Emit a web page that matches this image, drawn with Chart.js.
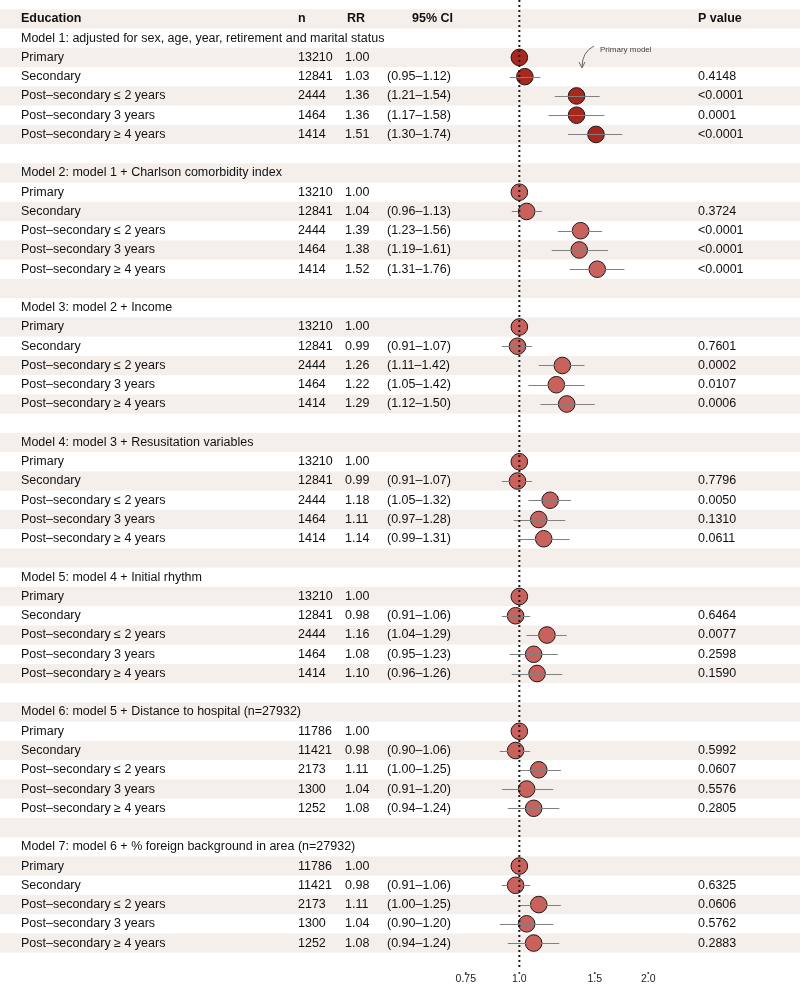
<!DOCTYPE html>
<html>
<head>
<meta charset="utf-8">
<script src="https://cdn.jsdelivr.net/npm/chart.js@4.4.1/dist/chart.umd.min.js"></script>
<style>
  html, body { margin: 0; padding: 0; background: #ffffff; }
  canvas { display: block; }
</style>
</head>
<body>
<canvas id="forest" width="800" height="984"></canvas>
<script>
// Datos del forest plot
var modelTitles = [
    'Model 1: adjusted for sex, age, year, retirement and marital status',
    'Model 2: model 1 + Charlson comorbidity index',
    'Model 3: model 2 + Income',
    'Model 4: model 3 + Resusitation variables',
    'Model 5: model 4 + Initial rhythm',
    'Model 6: model 5 + Distance to hospital (n=27932)',
    'Model 7: model 6 + % foreign background in area (n=27932)'
];
var categories = ['Primary', 'Secondary', 'Post\u2013secondary \u2264 2 years', 'Post\u2013secondary 3 years', 'Post\u2013secondary \u2265 4 years'];

var nValues = [
    [13210, 12841, 2444, 1464, 1414],
    [13210, 12841, 2444, 1464, 1414],
    [13210, 12841, 2444, 1464, 1414],
    [13210, 12841, 2444, 1464, 1414],
    [13210, 12841, 2444, 1464, 1414],
    [11786, 11421, 2173, 1300, 1252],
    [11786, 11421, 2173, 1300, 1252]
];
var rrValues = [
    [1.00, 1.03, 1.36, 1.36, 1.51],
    [1.00, 1.04, 1.39, 1.38, 1.52],
    [1.00, 0.99, 1.26, 1.22, 1.29],
    [1.00, 0.99, 1.18, 1.11, 1.14],
    [1.00, 0.98, 1.16, 1.08, 1.10],
    [1.00, 0.98, 1.11, 1.04, 1.08],
    [1.00, 0.98, 1.11, 1.04, 1.08]
];
var ciLow = [
    [null, 0.95, 1.21, 1.17, 1.30],
    [null, 0.96, 1.23, 1.19, 1.31],
    [null, 0.91, 1.11, 1.05, 1.12],
    [null, 0.91, 1.05, 0.97, 0.99],
    [null, 0.91, 1.04, 0.95, 0.96],
    [null, 0.90, 1.00, 0.91, 0.94],
    [null, 0.91, 1.00, 0.90, 0.94]
];
var ciHigh = [
    [null, 1.12, 1.54, 1.58, 1.74],
    [null, 1.13, 1.56, 1.61, 1.76],
    [null, 1.07, 1.42, 1.42, 1.50],
    [null, 1.07, 1.32, 1.28, 1.31],
    [null, 1.06, 1.29, 1.23, 1.26],
    [null, 1.06, 1.25, 1.20, 1.24],
    [null, 1.06, 1.25, 1.20, 1.24]
];
var pValues = [
    ['', '0.4148', '<0.0001', '0.0001', '<0.0001'],
    ['', '0.3724', '<0.0001', '<0.0001', '<0.0001'],
    ['', '0.7601', '0.0002', '0.0107', '0.0006'],
    ['', '0.7796', '0.0050', '0.1310', '0.0611'],
    ['', '0.6464', '0.0077', '0.2598', '0.1590'],
    ['', '0.5992', '0.0607', '0.5576', '0.2805'],
    ['', '0.6325', '0.0606', '0.5762', '0.2883']
];
var xTicks = [0.75, 1.0, 1.5, 2.0];
var xTickLabels = ['0.75', '1.0', '1.5', '2.0'];

// Estilos
var FONT = '"Liberation Sans", Arial, Helvetica, sans-serif';
var stripeColor = '#f5efec';
var primaryFill = '#a8271f';
var otherFill = '#c9625d';

// Fila de cada modelo: cabecera = 0, titulo = 1 + 7m, categorias = 2 + 7m + k
function rowOf(m, k) { return 2 + 7 * m + k; }
var totalRows = 49;

var points = [];
var pointColors = [];
modelTitles.forEach(function (t, m) {
    rrValues[m].forEach(function (rr, k) {
        points.push({ x: rr, y: rowOf(m, k), lo: ciLow[m][k], hi: ciHigh[m][k] });
        pointColors.push(m === 0 ? primaryFill : otherFill);
    });
});

function fmtCI(lo, hi) {
    if (lo === null) return '';
    return '(' + lo.toFixed(2) + '\u2013' + hi.toFixed(2) + ')';
}

// Plugin: franjas de fondo
var stripes = {
    id: 'stripes',
    beforeDraw: function (chart) {
        var ctx = chart.ctx, y = chart.scales.y;
        ctx.save();
        ctx.fillStyle = stripeColor;
        for (var r = 0; r < totalRows; r += 2) {
            var top = y.getPixelForValue(r - 0.5);
            var bot = y.getPixelForValue(r + 0.5);
            ctx.fillRect(0, top, chart.width, bot - top);
        }
        ctx.restore();
    }
};

// Plugin: IC, linea de referencia y textos de la tabla
var table = {
    id: 'table',
    afterDatasetsDraw: function (chart) {
        var ctx = chart.ctx, x = chart.scales.x, y = chart.scales.y;
        ctx.save();

        // intervalos de confianza
        ctx.strokeStyle = '#808080';
        ctx.lineWidth = 1;
        points.forEach(function (p) {
            if (p.lo === null) return;
            var py = Math.round(y.getPixelForValue(p.y)) + 0.5;
            ctx.beginPath();
            ctx.moveTo(x.getPixelForValue(p.lo), py);
            ctx.lineTo(x.getPixelForValue(p.hi), py);
            ctx.stroke();
        });

        // linea punteada en RR = 1
        var x1 = x.getPixelForValue(1);
        ctx.strokeStyle = '#1a1a1a';
        ctx.lineWidth = 2;
        ctx.setLineDash([2, 3]);
        ctx.beginPath();
        ctx.moveTo(x1, 0);
        ctx.lineTo(x1, 968);
        ctx.stroke();
        ctx.setLineDash([]);

        // marcas de los ticks
        ctx.fillStyle = '#333';
        xTicks.forEach(function (v) {
            ctx.beginPath();
            ctx.arc(x.getPixelForValue(v), 973, 1, 0, Math.PI * 2);
            ctx.fill();
        });

        // textos
        ctx.fillStyle = '#111';
        ctx.textBaseline = 'middle';
        ctx.font = 'bold 12.5px ' + FONT;
        var hy = y.getPixelForValue(0);
        ctx.fillText('Education', 21, hy);
        ctx.fillText('n', 298, hy);
        ctx.fillText('RR', 347, hy);
        ctx.fillText('95% CI', 412, hy);
        ctx.fillText('P value', 698, hy);

        ctx.font = '12.5px ' + FONT;
        modelTitles.forEach(function (title, m) {
            ctx.fillText(title, 21, y.getPixelForValue(1 + 7 * m));
            categories.forEach(function (cat, k) {
                var ry = y.getPixelForValue(rowOf(m, k));
                ctx.fillText(cat, 21, ry);
                ctx.fillText(String(nValues[m][k]), 298, ry);
                ctx.fillText(rrValues[m][k].toFixed(2), 345, ry);
                ctx.fillText(fmtCI(ciLow[m][k], ciHigh[m][k]), 387, ry);
                ctx.fillText(pValues[m][k], 698, ry);
            });
        });

        // anotacion "Primary model"
        ctx.font = '8px ' + FONT;
        ctx.fillStyle = '#444';
        ctx.fillText('Primary model', 600, 50);
        ctx.strokeStyle = '#666';
        ctx.lineWidth = 1;
        ctx.beginPath();
        ctx.moveTo(594, 46);
        ctx.quadraticCurveTo(582, 52, 582, 67);
        ctx.stroke();
        ctx.beginPath();
        ctx.moveTo(579, 62);
        ctx.lineTo(582, 68);
        ctx.lineTo(585, 62);
        ctx.stroke();

        ctx.restore();
    }
};

var chart = new Chart(document.getElementById('forest'), {
    type: 'scatter',
    data: {
        datasets: [{
            data: points,
            pointRadius: 8.3,
            pointHoverRadius: 8.3,
            pointBackgroundColor: pointColors,
            pointBorderColor: '#1a1a1a',
            pointBorderWidth: 1
        }]
    },
    options: {
        responsive: false,
        animation: false,
        devicePixelRatio: 1,
        layout: { padding: { left: 453, right: 134, top: 1.3, bottom: 0 } },
        plugins: { legend: { display: false }, tooltip: { enabled: false } },
        scales: {
            x: {
                type: 'logarithmic',
                min: 0.7,
                max: 2.2,
                grid: { display: false, drawTicks: false },
                border: { display: false },
                afterBuildTicks: function (scale) {
                    scale.ticks = xTicks.map(function (v) { return { value: v }; });
                },
                afterFit: function (scale) {
                    scale.height = 31.3;
                },
                ticks: {
                    padding: 20,
                    color: '#222',
                    font: { family: FONT, size: 10.5 },
                    maxRotation: 0,
                    autoSkip: false,
                    callback: function (value, index) { return xTickLabels[index]; }
                }
            },
            y: {
                type: 'linear',
                min: -0.5,
                max: totalRows - 0.5,
                reverse: true,
                display: false
            }
        }
    },
    plugins: [stripes, table]
});
</script>
</body>
</html>
